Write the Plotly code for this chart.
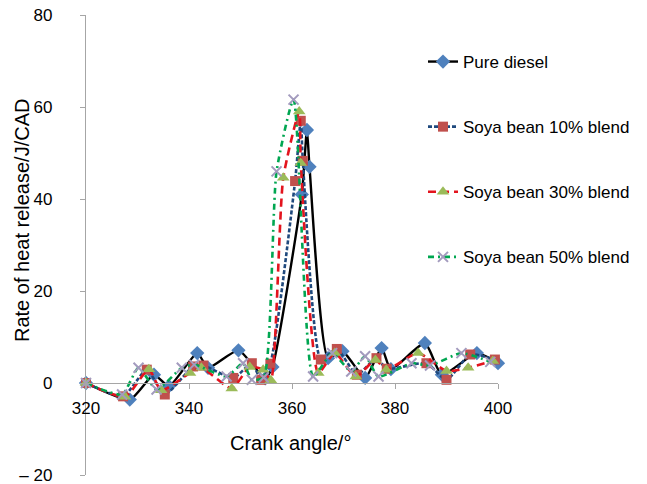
import plotly.graph_objects as go

# Crank angle (deg) and rate of heat release (J/CAD) for each fuel
diesel_x = [320, 328.5, 333.2, 336.1, 341.6, 343.7, 349.6, 354.8, 356.2, 361.9, 362.9, 363.4,
            367.0, 369.8, 374.2, 377.4, 379.2, 385.8, 389.1, 395.9, 400.0]
diesel_y = [0, -3.6, 1.8, -0.7, 6.5, 3.3, 7.1, 1.0, 3.5, 41.0, 55.0, 47.0,
            5.4, 6.9, 1.1, 7.6, 3.0, 8.7, 1.8, 6.5, 4.3]

soya10_x = [320, 327.2, 331.8, 335.3, 340.8, 342.8, 348.6, 352.2, 354.0, 355.8, 360.6, 361.7,
            362.1, 365.6, 368.7, 372.6, 376.4, 378.4, 386.1, 390.0, 394.6, 399.4]
soya10_y = [0, -2.9, 2.9, -2.5, 3.6, 3.8, 1.1, 4.3, 0.7, 4.2, 43.9, 57.0,
            48.3, 5.1, 7.4, 1.8, 5.4, 3.1, 4.3, 0.7, 6.2, 5.1]

soya30_x = [320, 327.6, 332.2, 334.6, 340.2, 342.4, 348.3, 351.8, 354.4, 355.9, 358.3, 361.4,
            361.7, 365.1, 368.3, 372.4, 376.2, 378.3, 384.5, 390.0, 394.2, 399.0]
soya30_y = [0, -3.0, 3.0, -1.6, 2.2, 3.3, -1.2, 3.5, 2.9, 0.6, 44.6, 59.0,
            47.8, 2.2, 6.5, 1.4, 5.0, 2.9, 6.5, 2.6, 3.3, 4.8]

soya50_x = [320, 327.0, 330.2, 333.7, 338.6, 341.0, 347.3, 350.5, 352.2, 354.5, 357.0, 360.3,
            364.1, 367.8, 371.5, 374.2, 376.8, 383.2, 386.8, 392.9, 398.5]
soya50_y = [0, -2.5, 3.3, -1.4, 3.3, 4.0, 1.4, 4.3, 0.7, 1.2, 46.0, 61.6,
            1.4, 6.5, 2.5, 5.8, 1.4, 4.3, 3.8, 6.5, 4.6]

x_ticks = [320, 340, 360, 380, 400]
y_ticks = [-20, 0, 20, 40, 60, 80]
y_ticktext = ["\u2013 20", "0", "20", "40", "60", "80"]

series = [
    ("Pure diesel", diesel_x, diesel_y, "#000000", "solid", 2.4, "diamond", "#4F81BD", 11),
    ("Soya bean 10% blend", soya10_x, soya10_y, "#1F497D", "4px,2px", 2.6, "square", "#C0504D", 10),
    ("Soya bean 30% blend", soya30_x, soya30_y, "#E3141E", "8px,5px", 2.6, "triangle-up", "#9BBB59", 11),
    ("Soya bean 50% blend", soya50_x, soya50_y, "#00A651", "6px,4px,2px,4px", 2.6, "x-thin", "#A39BBE", 10),
]

fig = go.Figure()
for name, xs, ys, lc, dash, lw, sym, mc, ms in series:
    fig.add_trace(go.Scatter(
        x=xs, y=ys, name=name, mode="lines+markers", legendgroup=name,
        line=dict(color=lc, dash=dash, width=lw, shape="spline", smoothing=0.55),
        marker=dict(symbol=sym, color=mc, size=ms,
                    line=dict(color=mc, width=2 if sym == "x-thin" else 0)),
        cliponaxis=False,
    ))

# plot-area geometry in pixels
W, H = 647, 484
L, R, T, B = 86, 498, 15, 475


def px_x(x):
    return (x - L) / (R - L)


def px_y(y):
    return (B - y) / (B - T)


axis_color = "#A6A6A6"
fig.update_layout(
    width=W, height=H,
    margin=dict(l=L, r=W - R, t=T, b=H - B),
    plot_bgcolor="white", paper_bgcolor="white",
    font=dict(family="Liberation Sans, Arial, sans-serif", color="#000000", size=17),
    showlegend=True,
    legend=dict(x=px_x(423), xanchor="left", y=px_y(44), yanchor="top",
                font=dict(size=17), tracegroupgap=40, bgcolor="rgba(0,0,0,0)"),
    xaxis=dict(range=[320, 400], tickvals=x_ticks, showline=True, linecolor=axis_color,
               linewidth=1.3, ticks="outside", ticklen=5, tickcolor=axis_color,
               showgrid=False, zeroline=False, anchor="free", position=0.2,
               tickfont=dict(size=17), ticklabelstandoff=4, automargin=False),
    yaxis=dict(range=[-20, 80], tickvals=y_ticks, ticktext=y_ticktext, showline=True,
               linecolor=axis_color, linewidth=1.3, ticks="outside", ticklen=5,
               tickcolor=axis_color, showgrid=False, zeroline=False,
               tickfont=dict(size=17), ticklabelstandoff=24,
               ticklabeloverflow="allow", automargin=False),
    annotations=[
        dict(text="Crank angle/\u00b0", xref="paper", yref="paper",
             x=px_x(290), y=px_y(443), xanchor="center", yanchor="middle",
             showarrow=False, font=dict(size=20)),
        dict(text="Rate of heat release/J/CAD", xref="paper", yref="paper",
             x=px_x(22), y=px_y(221), xanchor="center", yanchor="middle",
             textangle=-90, showarrow=False, font=dict(size=20)),
    ],
)

fig.write_html("out.html")
